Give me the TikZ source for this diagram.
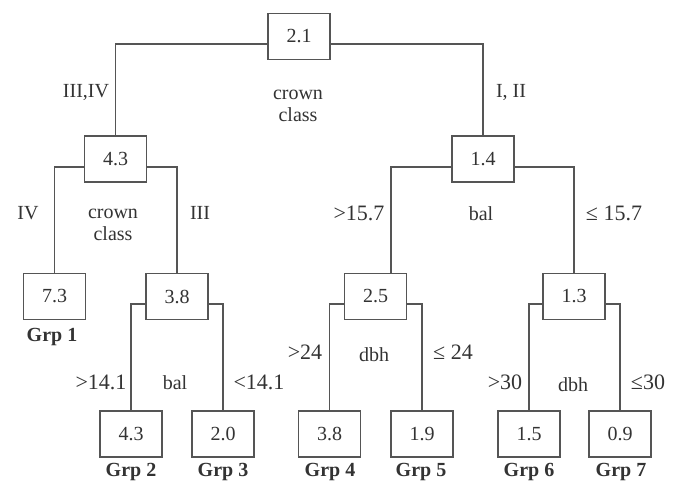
\documentclass[tikz,border=0pt]{standalone}
\usepackage{fontspec}
\setmainfont{Liberation Serif}
\begin{document}
\begin{tikzpicture}[x=1pt,y=-1pt,
  box/.style={draw=linec,line width=1.2pt,minimum width=62pt,minimum height=46pt,inner sep=0pt,font=\fontsize{20}{22}\selectfont,text=textc},
  edge/.style={draw=linec,line width=1.2pt},
  lab/.style={inner sep=0pt,font=\fontsize{20}{22}\selectfont,text=textc},
  numlab/.style={inner sep=0pt,font=\fontsize{22}{24}\selectfont,text=textc},
  grp/.style={inner sep=0pt,font=\fontsize{20}{22}\selectfont\bfseries,text=textc}]
\definecolor{linec}{HTML}{555555}
\definecolor{textc}{HTML}{333333}
\useasboundingbox[fill=white] (0,0) rectangle (678,481);
% boxes
\node[box] (root) at (299,36.5) {2.1};
\node[box] (n43) at (115.5,159) {4.3};
\node[box] (n14) at (483,159) {1.4};
\node[box] (n73) at (54.5,296.5) {7.3};
\node[box] (n38) at (177,296.5) {3.8};
\node[box] (n25) at (375.5,296.5) {2.5};
\node[box] (n13) at (574,296.5) {1.3};
\node[box] (l2) at (131,434) {4.3};
\node[box] (l3) at (223,434) {2.0};
\node[box] (l4) at (329.5,434) {3.8};
\node[box] (l5) at (422,434) {1.9};
\node[box] (l6) at (529,434) {1.5};
\node[box] (l7) at (620,434) {0.9};
% connectors
\draw[edge] ([yshift=-7.5pt]root.west) -| (n43.north);
\draw[edge] ([yshift=-7.5pt]root.east) -| (n14.north);
\draw[edge] ([yshift=-8pt]n43.west) -| (n73.north);
\draw[edge] ([yshift=-8pt]n43.east) -| (n38.north);
\draw[edge] ([yshift=-8pt]n14.west) -| ([xshift=15.5pt]n25.north);
\draw[edge] ([yshift=-8pt]n14.east) -| (n13.north);
\draw[edge] ([yshift=-7.5pt]n38.west) -| (l2.north);
\draw[edge] ([yshift=-7.5pt]n38.east) -| (l3.north);
\draw[edge] ([yshift=-7.5pt]n25.west) -| (l4.north);
\draw[edge] ([yshift=-7.5pt]n25.east) -| (l5.north);
\draw[edge] ([yshift=-7.5pt]n13.west) -| (l6.north);
\draw[edge] ([yshift=-7.5pt]n13.east) -| (l7.north);
% labels
\node[lab] (a1) at (86,92) {III,IV};
\node[lab,align=center] (a2) at (298,106) {crown\\class};
\node[lab] (a3) at (511,92) {I, II};
\node[lab] (b1) at (28,213) {IV};
\node[lab,align=center] (b2) at (113,225) {crown\\class};
\node[lab] (b3) at (200,213) {III};
\node[numlab] (c1) at (359,213) {>15.7};
\node[lab] (c2) at (481,214) {bal};
\node[numlab] (c3) at (614,213) {≤ 15.7};
\node[numlab] (d1) at (101,382) {>14.1};
\node[lab] (d2) at (175,383) {bal};
\node[numlab] (d3) at (259,382) {<14.1};
\node[numlab] (e1) at (305,352) {>24};
\node[lab] (e2) at (374,355) {dbh};
\node[numlab] (e3) at (453,352) {≤ 24};
\node[numlab] (f1) at (505,382) {>30};
\node[lab] (f2) at (573,385) {dbh};
\node[numlab] (f3) at (648,382) {≤30};
% group labels
\node[grp] (g1) at (52,337) {Grp 1};
\node[grp] (g2) at (131,472) {Grp 2};
\node[grp] (g3) at (223,472) {Grp 3};
\node[grp] (g4) at (330,472) {Grp 4};
\node[grp] (g5) at (421,472) {Grp 5};
\node[grp] (g6) at (529,472) {Grp 6};
\node[grp] (g7) at (621,472) {Grp 7};
\end{tikzpicture}
\end{document}
